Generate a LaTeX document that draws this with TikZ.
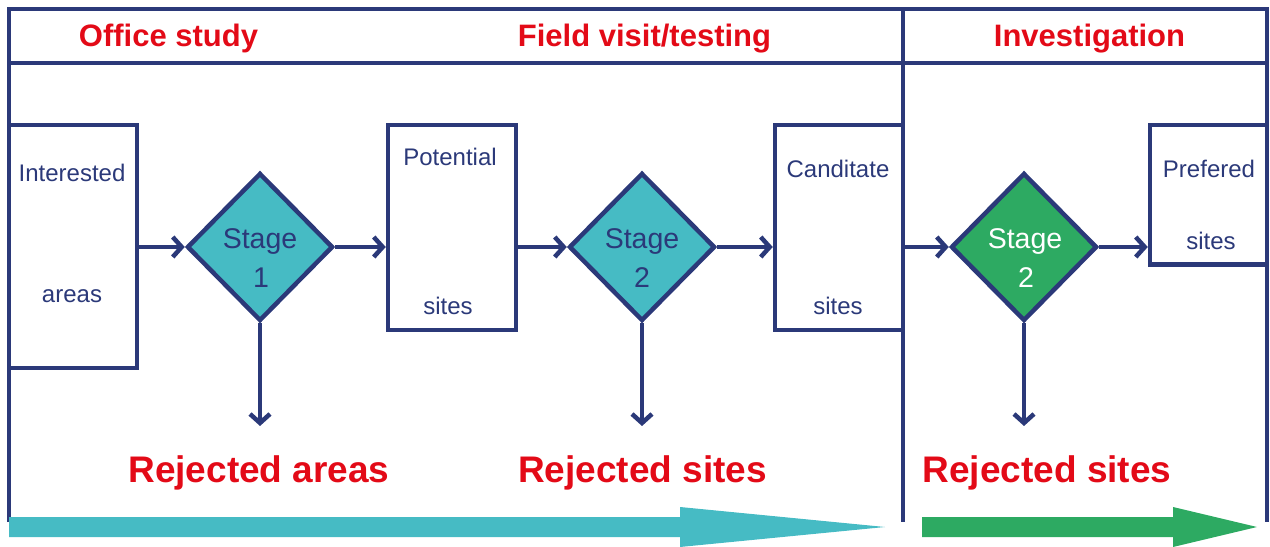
\documentclass[tikz,border=0pt]{standalone}
\usepackage{fontspec}
\setmainfont{Liberation Sans}
\usetikzlibrary{arrows.meta,shapes.geometric}
\definecolor{frameblue}{HTML}{2B3979}
\definecolor{headred}{HTML}{E30A17}
\definecolor{stagecyan}{HTML}{46BBC4}
\definecolor{stagegreen}{HTML}{2DAA62}
\newcommand{\boxfont}{\fontsize{24bp}{28bp}\selectfont}
\newcommand{\stagefont}{\fontsize{28.5bp}{34bp}\selectfont}
\newcommand{\headfont}{\fontsize{31bp}{36bp}\selectfont\bfseries}
\newcommand{\rejfont}{\fontsize{37bp}{42bp}\selectfont\bfseries}

\begin{document}
\begin{tikzpicture}[x=1bp,y=-1bp,line width=4.5bp,
  sitebox/.style={draw=frameblue,rectangle,inner sep=0pt,minimum width=128bp},
  stagebox/.style={draw=frameblue,diamond,inner sep=0pt,minimum width=146bp,minimum height=148bp},
  flow/.style={draw=frameblue,-{Straight Barb[length=9bp,width=20bp]}},
  boxtext/.style={text=frameblue,font=\boxfont,anchor=base,inner sep=0pt},
  stagetext/.style={font=\stagefont,anchor=base,inner sep=0pt},
  headtext/.style={text=headred,font=\headfont,anchor=base,inner sep=0pt},
  rejtext/.style={text=headred,font=\rejfont,anchor=base,inner sep=0pt}]
% frame and header band
\useasboundingbox (0,0) rectangle (1270,547);
\draw[frameblue] (9,522) -- (9,9) -- (1267,9) -- (1267,522);
\draw[frameblue] (9,63) -- (1267,63);
\draw[frameblue] (903,9) -- (903,522);
\node[headtext] (officehead) at (168.5,47) {Office study};
\node[headtext] (fieldhead) at (644.5,47) {Field visit/testing};
\node[headtext] (investhead) at (1089.5,47) {Investigation};
% boxes
\node[sitebox,minimum height=243bp] (interested) at (73,246.5) {};
\node[sitebox,minimum height=205bp] (potential) at (452,227.5) {};
\node[sitebox,minimum height=205bp] (canditate) at (839,227.5) {};
\node[sitebox,minimum width=117bp,minimum height=139.5bp] (prefered) at (1208.5,194.75) {};
\node[boxtext] (interested-a) at (72,182) {Interested};
\node[boxtext] (interested-b) at (72,303) {areas};
\node[boxtext] (potential-a) at (450,166) {Potential};
\node[boxtext] (potential-b) at (448,315) {sites};
\node[boxtext] (canditate-a) at (838,178) {Canditate};
\node[boxtext] (canditate-b) at (838,315) {sites};
\node[boxtext] (prefered-a) at (1209,178) {Prefered};
\node[boxtext] (prefered-b) at (1211,250) {sites};
% stages
\node[stagebox,fill=stagecyan] (stageA) at (260,247) {};
\node[stagebox,fill=stagecyan] (stageB) at (642,247) {};
\node[stagebox,fill=stagegreen] (stageC) at (1024,247) {};
\node[stagetext,text=frameblue] (stageA-a) at (260,249) {Stage};
\node[stagetext,text=frameblue] (stageA-b) at (261,288) {1};
\node[stagetext,text=frameblue] (stageB-a) at (642,249) {Stage};
\node[stagetext,text=frameblue] (stageB-b) at (642,288) {2};
\node[stagetext,text=white] (stageC-a) at (1025,249) {Stage};
\node[stagetext,text=white] (stageC-b) at (1026,288) {2};
% flow
\draw[flow] (interested.east |- stageA.west) -- (stageA.west);
\draw[flow] (stageA.east) -- (stageA.east -| potential.west);
\draw[flow] (potential.east |- stageB.west) -- (stageB.west);
\draw[flow] (stageB.east) -- (stageB.east -| canditate.west);
\draw[flow] (canditate.east |- stageC.west) -- (stageC.west);
\draw[flow] (stageC.east) -- (stageC.east -| prefered.west);
\coordinate (rejA) at (260,426);
\coordinate (rejB) at (642,426);
\coordinate (rejC) at (1024,426);
\draw[flow] (stageA.south) -- (rejA);
\draw[flow] (stageB.south) -- (rejB);
\draw[flow] (stageC.south) -- (rejC);
\node[rejtext] (rejareas) at (259,482) {Rejected areas};
\node[rejtext] (rejsitesA) at (642.5,482) {Rejected sites};
\node[rejtext] (rejsitesB) at (1047,482) {Rejected sites};
% phase arrows
\fill[stagecyan] (9,517) -- (680,517) -- (680,507) -- (885,527)
 -- (680,547) -- (680,537) -- (9,537) -- cycle;
\fill[stagegreen] (922,517) -- (1173,517) -- (1173,507) -- (1257,527)
 -- (1173,547) -- (1173,537) -- (922,537) -- cycle;
\end{tikzpicture}
\end{document}
